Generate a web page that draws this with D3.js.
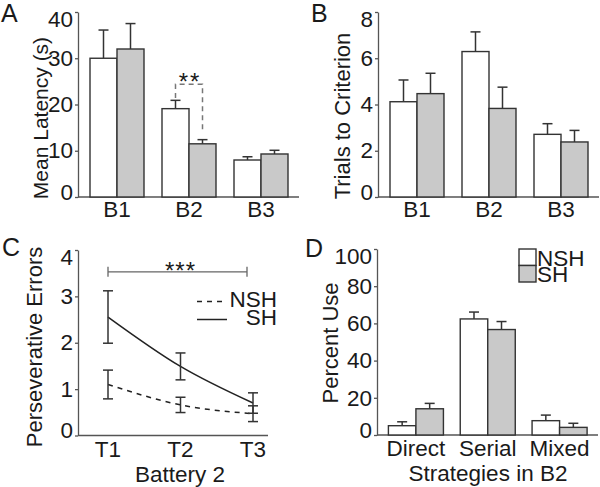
<!DOCTYPE html>
<html><head><meta charset="utf-8">
<script src="https://cdn.jsdelivr.net/npm/d3@7"></script>
<style>
body{margin:0;background:#fff;}
svg text{font-family:"Liberation Sans",Arial,sans-serif;fill:#1a1a1a;}
</style></head>
<body><svg id="c" width="600" height="487"></svg>
<script>
// ---------- data ----------
const batteries = ["B1", "B2", "B3"];
const latencyNSH = [30.0, 19.1, 8.0];
const latencyNSHErr = [6.1, 1.8, 0.7];
const latencySH = [32.0, 11.5, 9.3];
const latencySHErr = [5.5, 0.9, 0.8];
const latencyTicks = [0, 10, 20, 30, 40];

const trialsNSH = [4.12, 6.29, 2.71];
const trialsNSHErr = [0.94, 0.85, 0.46];
const trialsSH = [4.47, 3.83, 2.38];
const trialsSHErr = [0.88, 0.92, 0.50];
const trialsTicks = [0, 2, 4, 6, 8];

const trials = ["T1", "T2", "T3"];
const perseverNSH = [1.10, 0.66, 0.47];
const perseverNSHErr = [0.31, 0.165, 0.17];
const perseverSH = [2.555, 1.49, 0.70];
const perseverSHErr = [0.565, 0.29, 0.22];
const perseverTicks = [0, 1, 2, 3, 4];

const strategies = ["Direct", "Serial", "Mixed"];
const useNSH = [5.0, 62.4, 7.7];
const useNSHErr = [2.1, 3.7, 3.0];
const useSH = [14.1, 56.7, 4.1];
const useSHErr = [2.9, 4.3, 2.2];
const useTicks = [0, 20, 40, 60, 80, 100];

const groups = ["NSH", "SH"];
const bracketA = [24.4, 21.4, 14.5];   // top, left foot, right foot (s)
const bracketC = [3.53];               // level (errors)

// ---------- style ----------
const FS = 22.5;   // tick / category / legend text
const FT = 22;     // y titles
const GREY = "#c9c9c9";
const DARK = "#333";
const AXIS = "#555";
const svg = d3.select("#c");

function yAxis(g, y, ticks, x0, top, bottom) {
  const ax = g.append("g").attr("transform", `translate(${x0},0)`)
    .call(d3.axisLeft(y).tickValues(ticks).tickFormat(d3.format("d"))
      .tickSize(3).tickPadding(2).tickSizeOuter(0));
  ax.select(".domain").attr("stroke", AXIS).attr("stroke-width", 1.3);
  ax.selectAll(".tick line").attr("stroke", AXIS).attr("stroke-width", 1.3);
  ax.selectAll(".tick text").attr("font-size", FS).attr("fill", "#1a1a1a")
    .attr("font-family", "Liberation Sans, Arial, sans-serif")
    .attr("y", d => {
      const p = y(d);
      if (p < top + 7) return top + 7 - p;
      if (p > bottom - 5) return bottom - 5 - p;
      return 0;
    });
  return ax;
}

function barPanel(opt) {
  const g = svg.append("g");
  const y = d3.scaleLinear().domain(opt.domain).range([opt.bottom, opt.top]);
  const x = d3.scaleBand().domain(opt.cats).range(opt.bandRange)
    .paddingInner(opt.pad).paddingOuter(opt.pad / 2);
  const xs = d3.scaleBand().domain(groups).range([0, x.bandwidth()]);
  g.append("line").attr("x1", opt.axisX).attr("x2", opt.xEnd)
    .attr("y1", opt.bottom).attr("y2", opt.bottom)
    .attr("stroke", AXIS).attr("stroke-width", 1.3);
  const series = [
    {k: "NSH", v: opt.nsh, e: opt.nshErr, fill: "#fff"},
    {k: "SH", v: opt.sh, e: opt.shErr, fill: GREY}
  ];
  series.forEach(s => {
    opt.cats.forEach((c, i) => {
      const bx = x(c) + xs(s.k), bw = xs.bandwidth();
      const cx = bx + bw / 2;
      const top = y(s.v[i] + s.e[i]);
      g.append("line").attr("x1", cx).attr("x2", cx)
        .attr("y1", y(s.v[i])).attr("y2", top)
        .attr("stroke", DARK).attr("stroke-width", 1.5);
      g.append("line").attr("x1", cx - 5).attr("x2", cx + 5)
        .attr("y1", top).attr("y2", top)
        .attr("stroke", DARK).attr("stroke-width", 1.5);
      g.append("rect").attr("x", bx).attr("y", y(s.v[i]))
        .attr("width", bw).attr("height", y(0) - y(s.v[i]))
        .attr("fill", s.fill).attr("stroke", DARK).attr("stroke-width", 1.4);
    });
  });
  yAxis(g, y, opt.ticks, opt.axisX, opt.top, opt.bottom);
  opt.cats.forEach(c => {
    g.append("text").attr("x", x(c) + x.bandwidth() / 2).attr("y", opt.catY)
      .attr("text-anchor", "middle").attr("font-size", FS).text(c);
  });
  g.append("text").attr("transform", `translate(${opt.titleX},${opt.titleY}) rotate(-90)`)
    .attr("text-anchor", "middle").attr("font-size", opt.titleSize || FT).text(opt.title);
  if (opt.xtitle) {
    g.append("text").attr("x", opt.xtitleX).attr("y", opt.xtitleY)
      .attr("text-anchor", "middle").attr("font-size", FS).text(opt.xtitle);
  }
  return {g, x, xs, y};
}

// ---------- Panel A ----------
const A = barPanel({
  cats: batteries, nsh: latencyNSH, nshErr: latencyNSHErr, sh: latencySH, shErr: latencySHErr,
  domain: [0, 40], ticks: latencyTicks, top: 12, bottom: 197,
  axisX: 78, xEnd: 299, bandRange: [81, 297], pad: 0.25, catY: 217,
  title: "Mean Latency (s)", titleX: 48, titleY: 118, titleSize: 21
});
{
  const cxL = A.x("B2") + A.xs("NSH") + A.xs.bandwidth() / 2;
  const cxR = A.x("B2") + A.xs("SH") + A.xs.bandwidth() / 2;
  A.g.append("path")
    .attr("d", `M${cxL},${A.y(bracketA[1])}V${A.y(bracketA[0])}H${cxR}V${A.y(bracketA[2])}`)
    .attr("fill", "none").attr("stroke", "#777").attr("stroke-width", 1.5)
    .attr("stroke-dasharray", "5,4");
  A.g.append("text").attr("x", (cxL + cxR) / 2 + 1).attr("y", A.y(bracketA[0]) + 6)
    .attr("text-anchor", "middle").attr("font-size", 24).attr("letter-spacing", 2).text("**");
}

// ---------- Panel B ----------
barPanel({
  cats: batteries, nsh: trialsNSH, nshErr: trialsNSHErr, sh: trialsSH, shErr: trialsSHErr,
  domain: [0, 8], ticks: trialsTicks, top: 12, bottom: 197,
  axisX: 378, xEnd: 599, bandRange: [381, 597], pad: 0.25, catY: 217,
  title: "Trials to Criterion", titleX: 350, titleY: 116
});

// ---------- Panel D ----------
const D = barPanel({
  cats: strategies, nsh: useNSH, nshErr: useNSHErr, sh: useSH, shErr: useSHErr,
  domain: [0, 100], ticks: useTicks, top: 249, bottom: 435,
  axisX: 377, xEnd: 598, bandRange: [380, 595.5], pad: 0.234, catY: 456,
  title: "Percent Use", titleX: 338, titleY: 343,
  xtitle: "Strategies in B2", xtitleX: 488, xtitleY: 481
});
{
  const lg = D.g.append("g");
  groups.forEach((k, i) => {
    const y0 = 249 + i * 16.5;
    lg.append("rect").attr("x", 519).attr("y", y0).attr("width", 17).attr("height", 16.5)
      .attr("fill", i ? GREY : "#fff").attr("stroke", DARK).attr("stroke-width", 1.4);
    lg.append("text").attr("x", 537).attr("y", y0 + 16.5).attr("font-size", FS).text(k);
  });
}

// ---------- Panel C ----------
{
  const g = svg.append("g");
  const top = 250, bottom = 435.5;
  const y = d3.scaleLinear().domain([0, 4]).range([bottom, top]);
  const x = d3.scalePoint().domain(trials).range([108, 253]);
  g.append("line").attr("x1", 78).attr("x2", 268).attr("y1", bottom).attr("y2", bottom)
    .attr("stroke", AXIS).attr("stroke-width", 1.3);
  yAxis(g, y, perseverTicks, 78, top, bottom);
  const line = d3.line().x((d, i) => x(trials[i])).y(d => y(d)).curve(d3.curveMonotoneX);
  const sets = [
    {v: perseverNSH, e: perseverNSHErr, dash: "5,5"},
    {v: perseverSH, e: perseverSHErr, dash: null}
  ];
  sets.forEach(s => {
    g.append("path").attr("d", line(s.v)).attr("fill", "none")
      .attr("stroke", "#222").attr("stroke-width", 1.5).attr("stroke-dasharray", s.dash);
    s.v.forEach((v, i) => {
      const cx = x(trials[i]);
      const hi = y(v + s.e[i]), lo = y(v - s.e[i]);
      g.append("line").attr("x1", cx).attr("x2", cx).attr("y1", hi).attr("y2", lo)
        .attr("stroke", "#333").attr("stroke-width", 1.5);
      [hi, lo].forEach(yy => g.append("line").attr("x1", cx - 5).attr("x2", cx + 5)
        .attr("y1", yy).attr("y2", yy).attr("stroke", "#333").attr("stroke-width", 1.5));
    });
  });
  const by = y(bracketC[0]), bx1 = x("T1"), bx2 = x("T3") - 6;
  g.append("path").attr("d", `M${bx1},${by - 5}V${by + 5}M${bx1},${by}H${bx2}M${bx2},${by - 5}V${by + 5}`)
    .attr("fill", "none").attr("stroke", "#666").attr("stroke-width", 1.3);
  g.append("text").attr("x", x("T2")).attr("y", by + 7).attr("text-anchor", "middle")
    .attr("font-size", 24).attr("letter-spacing", 1).text("***");
  [{k: "NSH", dash: "5,5", yy: 301.5}, {k: "SH", dash: null, yy: 319.5}].forEach(l => {
    g.append("line").attr("x1", 197).attr("x2", 227).attr("y1", l.yy).attr("y2", l.yy)
      .attr("stroke", "#222").attr("stroke-width", 1.5).attr("stroke-dasharray", l.dash);
    g.append("text").attr("x", 277).attr("y", l.yy + 5).attr("text-anchor", "end")
      .attr("font-size", FS).text(l.k);
  });
  trials.forEach(t => g.append("text").attr("x", x(t)).attr("y", 457)
    .attr("text-anchor", "middle").attr("font-size", FS).text(t));
  g.append("text").attr("transform", "translate(42,347) rotate(-90)")
    .attr("text-anchor", "middle").attr("font-size", FT).text("Perseverative Errors");
  g.append("text").attr("x", 180).attr("y", 482).attr("text-anchor", "middle")
    .attr("font-size", FS).text("Battery 2");
}

// ---------- panel letters ----------
[["A", 1, 22], ["B", 311, 22], ["C", 2, 256], ["D", 305, 257]].forEach(([t, x, y]) =>
  svg.append("text").attr("x", x).attr("y", y).attr("font-size", 25).text(t));
</script></body></html>
